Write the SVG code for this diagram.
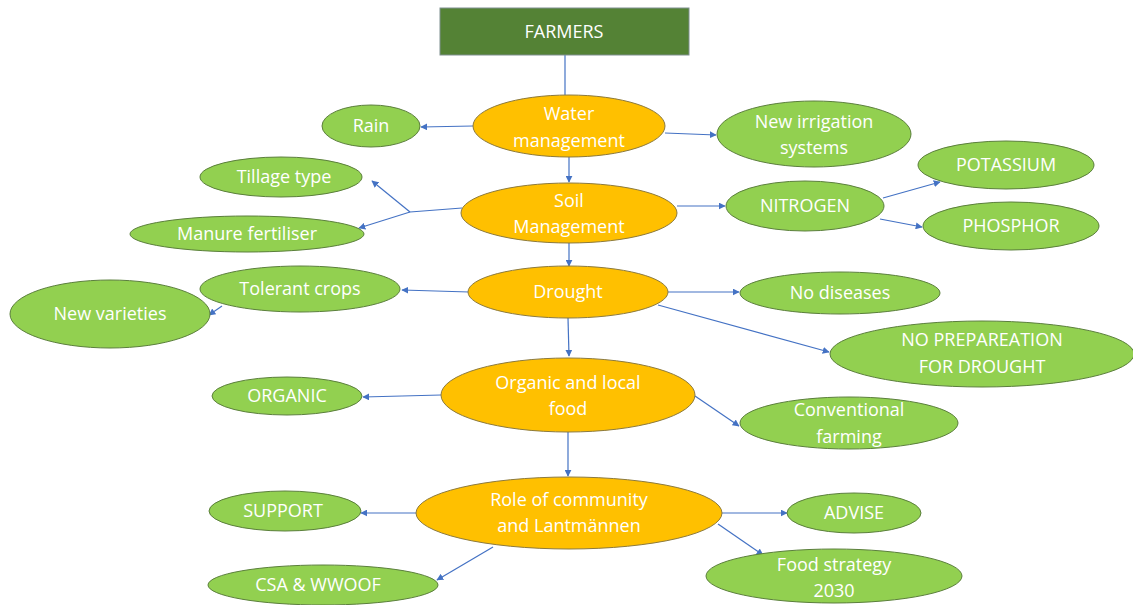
<svg xmlns="http://www.w3.org/2000/svg" width="1133" height="605" viewBox="0 0 1133 605">
<defs>
<style>
.g{fill:#92D050;stroke:#5B7F3C;stroke-width:1}
.o{fill:#FFC000;stroke:#8C7A3E;stroke-width:1}
.t{font-family:"Open Sans","Noto Sans",Arial,sans-serif;font-size:18px;fill:#FFFFFF;text-anchor:middle}
.c{stroke:#4472C4;stroke-width:1.2;fill:none}
.a{marker-end:url(#arr)}
</style>
<marker id="arr" viewBox="0 0 10 10" refX="9" refY="5" markerWidth="7" markerHeight="7" markerUnits="userSpaceOnUse" orient="auto">
<path d="M0,0 L10,5 L0,10 z" fill="#4472C4"/>
</marker>
</defs>
<rect width="1133" height="605" fill="#FFFFFF"/>
<g id="connectors">
<line class="c" x1="565" y1="55" x2="565" y2="95"/>
<line class="c a" x1="473" y1="126" x2="421" y2="127"/>
<line class="c a" x1="665" y1="133" x2="716" y2="135"/>
<line class="c a" x1="569" y1="157" x2="569" y2="182"/>
<polyline class="c" points="462,208 410,212"/>
<line class="c a" x1="410" y1="212" x2="372" y2="181"/>
<line class="c a" x1="410" y1="212" x2="359" y2="228"/>
<line class="c a" x1="677" y1="206" x2="725" y2="206"/>
<line class="c a" x1="883" y1="198" x2="940" y2="182"/>
<line class="c a" x1="880" y1="219" x2="922" y2="227"/>
<line class="c a" x1="569" y1="243" x2="569" y2="266"/>
<line class="c a" x1="469" y1="292" x2="402" y2="290"/>
<line class="c a" x1="222" y1="306" x2="209" y2="315"/>
<line class="c a" x1="668" y1="292" x2="739" y2="292"/>
<line class="c a" x1="658" y1="305" x2="829" y2="352"/>
<line class="c a" x1="568" y1="318" x2="569" y2="356"/>
<line class="c a" x1="441" y1="395" x2="363" y2="397"/>
<line class="c a" x1="695" y1="396" x2="739" y2="426"/>
<line class="c a" x1="568" y1="432" x2="568" y2="476"/>
<line class="c a" x1="416" y1="513" x2="361" y2="513"/>
<line class="c a" x1="493" y1="547" x2="437" y2="580"/>
<line class="c a" x1="722" y1="513" x2="787" y2="513"/>
<line class="c a" x1="718" y1="524" x2="763" y2="555"/>
</g>
<g id="farmers"><rect x="440" y="8" width="249" height="47" fill="#548235" stroke="#7F8F8F" stroke-width="1"/><text class="t" x="564" y="38">FARMERS</text></g>
<g id="water"><ellipse class="o" cx="569" cy="126" rx="96" ry="31"/><text class="t" x="569" y="120">Water</text><text class="t" x="569" y="147">management</text></g>
<g id="rain"><ellipse class="g" cx="371" cy="126" rx="49" ry="21"/><text class="t" x="371" y="132">Rain</text></g>
<g id="irrigation"><ellipse class="g" cx="814" cy="134" rx="97" ry="33"/><text class="t" x="814" y="128">New irrigation</text><text class="t" x="814" y="154">systems</text></g>
<g id="soil"><ellipse class="o" cx="569" cy="213" rx="108" ry="30"/><text class="t" x="569" y="207">Soil</text><text class="t" x="569" y="233">Management</text></g>
<g id="tillage"><ellipse class="g" cx="281" cy="177" rx="81" ry="20"/><text class="t" x="284" y="183">Tillage type</text></g>
<g id="manure"><ellipse class="g" cx="247" cy="234" rx="117" ry="18"/><text class="t" x="247" y="240">Manure fertiliser</text></g>
<g id="nitrogen"><ellipse class="g" cx="805" cy="206" rx="79" ry="25"/><text class="t" x="805" y="212">NITROGEN</text></g>
<g id="potassium"><ellipse class="g" cx="1006" cy="165" rx="88" ry="24"/><text class="t" x="1006" y="171">POTASSIUM</text></g>
<g id="phosphor"><ellipse class="g" cx="1011" cy="226" rx="88" ry="24"/><text class="t" x="1011" y="232">PHOSPHOR</text></g>
<g id="drought"><ellipse class="o" cx="568" cy="292" rx="100" ry="26"/><text class="t" x="568" y="298">Drought</text></g>
<g id="tolerant"><ellipse class="g" cx="300" cy="289" rx="100" ry="23"/><text class="t" x="300" y="295">Tolerant crops</text></g>
<g id="varieties"><ellipse class="g" cx="110" cy="314" rx="100" ry="34"/><text class="t" x="110" y="320">New varieties</text></g>
<g id="nodiseases"><ellipse class="g" cx="840" cy="293" rx="100" ry="21"/><text class="t" x="840" y="299">No diseases</text></g>
<g id="noprep"><ellipse class="g" cx="982" cy="354" rx="152" ry="33"/><text class="t" x="982" y="346">NO PREPAREATION</text><text class="t" x="982" y="373">FOR DROUGHT</text></g>
<g id="organiclocal"><ellipse class="o" cx="568" cy="395" rx="127" ry="37"/><text class="t" x="568" y="389">Organic and local</text><text class="t" x="568" y="415">food</text></g>
<g id="organic"><ellipse class="g" cx="287" cy="396" rx="75" ry="19"/><text class="t" x="287" y="402">ORGANIC</text></g>
<g id="conventional"><ellipse class="g" cx="849" cy="423" rx="109" ry="26"/><text class="t" x="849" y="416">Conventional</text><text class="t" x="849" y="443">farming</text></g>
<g id="role"><ellipse class="o" cx="569" cy="513" rx="153" ry="36"/><text class="t" x="569" y="506">Role of community</text><text class="t" x="569" y="532">and Lantmännen</text></g>
<g id="support"><ellipse class="g" cx="285" cy="511" rx="76" ry="20"/><text class="t" x="283" y="517">SUPPORT</text></g>
<g id="csa"><ellipse class="g" cx="323" cy="585" rx="115" ry="20"/><text class="t" x="318" y="591">CSA &amp; WWOOF</text></g>
<g id="advise"><ellipse class="g" cx="854" cy="513" rx="67" ry="20"/><text class="t" x="854" y="519">ADVISE</text></g>
<g id="foodstrategy"><ellipse class="g" cx="834" cy="576" rx="128" ry="27"/><text class="t" x="834" y="571">Food strategy</text><text class="t" x="834" y="597">2030</text></g>
</svg>
